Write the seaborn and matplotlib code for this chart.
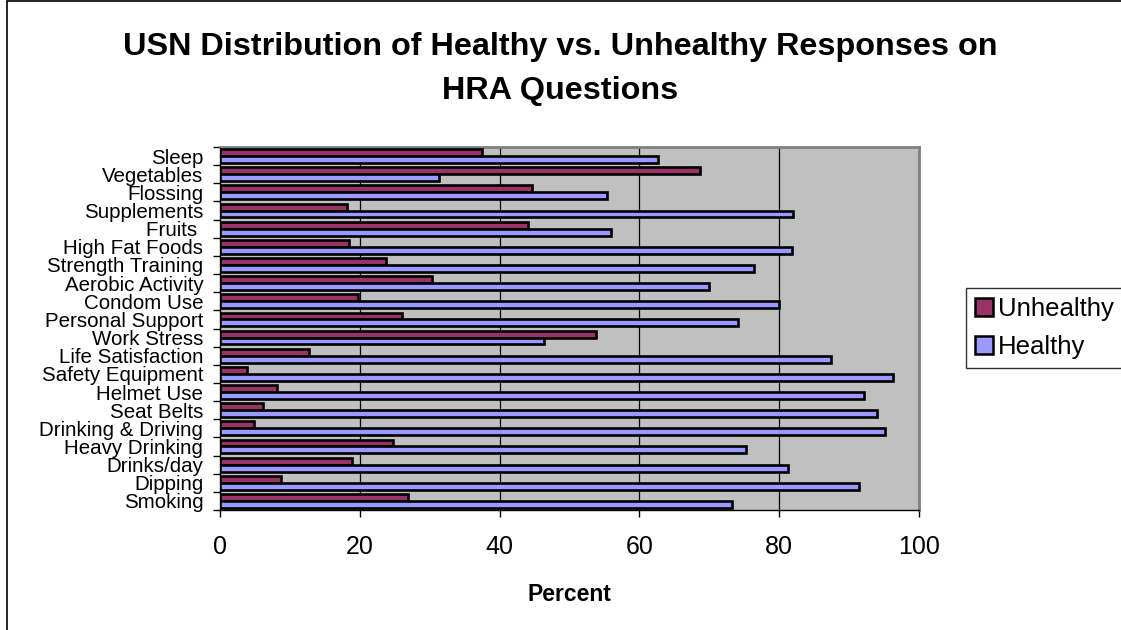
import pandas as pd
import seaborn as sns
import matplotlib.pyplot as plt
from matplotlib.patches import Rectangle

# Questions, top to bottom as shown
questions = ['Sleep', 'Vegetables', 'Flossing', 'Supplements', 'Fruits ',
             'High Fat Foods', 'Strength Training', 'Aerobic Activity',
             'Condom Use', 'Personal Support', 'Work Stress',
             'Life Satisfaction', 'Safety Equipment', 'Helmet Use',
             'Seat Belts', 'Drinking & Driving', 'Heavy Drinking',
             'Drinks/day', 'Dipping', 'Smoking']

# percent of responses
unhealthy = [37.5, 68.7, 44.7, 18.2, 44.1, 18.4, 23.7, 30.3, 19.8, 26.0,
             53.8, 12.7, 3.9, 8.1, 6.1, 4.9, 24.8, 18.9, 8.7, 26.9]
healthy = [62.7, 31.4, 55.4, 82.0, 56.0, 81.8, 76.4, 69.9, 80.0, 74.1,
           46.4, 87.4, 96.3, 92.1, 94.0, 95.2, 75.3, 81.3, 91.4, 73.3]

series = ['Unhealthy', 'Healthy']
x_ticks = [0, 20, 40, 60, 80, 100]

df = pd.DataFrame({
    'question': questions * 2,
    'response': ['Unhealthy'] * len(questions) + ['Healthy'] * len(questions),
    'percent': unhealthy + healthy,
})

sns.set_style('white')
plt.rcParams['font.family'] = ['Liberation Sans', 'DejaVu Sans']
plt.rcParams['text.color'] = 'black'
plt.rcParams['axes.labelcolor'] = 'black'
plt.rcParams['xtick.color'] = 'black'
plt.rcParams['ytick.color'] = 'black'

fig = plt.figure(figsize=(11.21, 6.30), dpi=100)
ax = fig.add_axes([220 / 1121, 1 - 510 / 630, 699 / 1121, 363 / 630])
ax.set_facecolor('#c0c0c0')

sns.barplot(data=df, x='percent', y='question', hue='response',
            hue_order=series, order=questions,
            palette={'Unhealthy': '#993366', 'Healthy': '#9999ff'},
            width=0.76, edgecolor='black', linewidth=1.9,
            saturation=1, ax=ax, zorder=3)

ax.set_xlim(0, 100)
ax.set_xticks(x_ticks)
ax.set_xticklabels([str(t) for t in x_ticks], fontsize=18)
for t in x_ticks[1:-1]:
    ax.axvline(t, color='#000000', lw=0.9, zorder=1)

# ticks between categories, labels at centers
n = len(questions)
ax.set_yticks(range(n))
ax.set_yticklabels(questions, fontsize=14.8)
ax.set_yticks([i - 0.5 for i in range(n + 1)], minor=True)
ax.tick_params(axis='y', which='major', length=0, pad=12)
ax.tick_params(axis='y', which='minor', length=5, width=1, color='black',
               direction='out', left=True)
ax.tick_params(axis='x', length=5, width=1, color='black', direction='out',
               bottom=True, pad=13)

for s in ['top', 'right']:
    ax.spines[s].set_color('#808080')
    ax.spines[s].set_linewidth(2)
for s in ['left', 'bottom']:
    ax.spines[s].set_color('black')
    ax.spines[s].set_linewidth(1)

ax.set_ylabel('')
ax.set_xlabel('Percent', fontsize=16.5, fontweight='bold', labelpad=17)

leg = ax.legend(loc='upper left', bbox_to_anchor=(966 / 1121, 1 - 288 / 630),
                bbox_transform=fig.transFigure, fontsize=18.5, frameon=True,
                fancybox=False, edgecolor='black', handlelength=0.7,
                handleheight=0.7, handletextpad=0.2, borderpad=0.35,
                labelspacing=0.55, borderaxespad=0)
leg.get_frame().set_linewidth(1)
for h in leg.legend_handles:
    h.set_edgecolor('black')
    h.set_linewidth(1.8)

fig.text(0.5, 1 - 69 / 630,
         'USN Distribution of Healthy vs. Unhealthy Responses on\nHRA Questions',
         ha='center', va='center', fontsize=23.3, fontweight='bold',
         linespacing=1.6)

# chart area border
fig.patches.append(Rectangle((7 / 1121, -0.1), 1.2, 1 - 1 / 630 + 0.1,
                             transform=fig.transFigure, fill=False,
                             edgecolor='black', lw=1.2))

fig.savefig('out.png', dpi=100)
